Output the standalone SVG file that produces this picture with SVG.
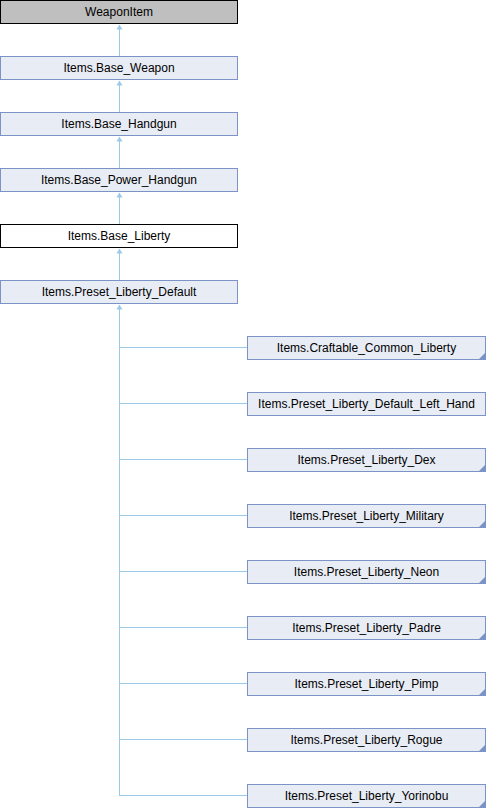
<svg xmlns="http://www.w3.org/2000/svg" width="486" height="808" viewBox="0 0 486 808">
  <style>
    .node rect { fill: #E8ECF5; stroke: #7B93C6; stroke-width: 1; }
    .node.root rect { fill: #BFBFBF; stroke: #000000; }
    .node.current rect { fill: #FFFFFF; stroke: #000000; }
    .node text { font-family: "Liberation Sans", Arial, sans-serif; font-size: 12px; fill: #000000; text-anchor: middle; }
    .fold { fill: #7B93C6; }
    .edge { fill: none; stroke: #9ACAEA; stroke-width: 1; }
    .head { fill: #9ACAEA; }
  </style>

  <!-- inheritance connectors -->
  <g id="edges">
    <path class="edge" d="M119.5,56 V25"/>
    <path class="edge" d="M119.5,112 V81"/>
    <path class="edge" d="M119.5,168 V137"/>
    <path class="edge" d="M119.5,224 V193"/>
    <path class="edge" d="M119.5,280 V249"/>
    <path class="edge" d="M119.5,796 V305"/>
    <path class="edge" d="M119.5,347.5 H247"/>
    <path class="edge" d="M119.5,403.5 H247"/>
    <path class="edge" d="M119.5,459.5 H247"/>
    <path class="edge" d="M119.5,515.5 H247"/>
    <path class="edge" d="M119.5,571.5 H247"/>
    <path class="edge" d="M119.5,627.5 H247"/>
    <path class="edge" d="M119.5,683.5 H247"/>
    <path class="edge" d="M119.5,739.5 H247"/>
    <path class="edge" d="M119.5,795.5 H247"/>
    <path class="head" d="M119.5,24.5 L122.5,29.5 L116.5,29.5 Z"/>
    <path class="head" d="M119.5,80.5 L122.5,85.5 L116.5,85.5 Z"/>
    <path class="head" d="M119.5,136.5 L122.5,141.5 L116.5,141.5 Z"/>
    <path class="head" d="M119.5,192.5 L122.5,197.5 L116.5,197.5 Z"/>
    <path class="head" d="M119.5,248.5 L122.5,253.5 L116.5,253.5 Z"/>
    <path class="head" d="M119.5,304.5 L122.5,309.5 L116.5,309.5 Z"/>
  </g>

  <g id="WeaponItem" class="node root">
    <rect x="0.5" y="0.5" width="237" height="23"/>
    <text x="119" y="16">WeaponItem</text>
  </g>
  <g id="Base_Weapon" class="node">
    <rect x="0.5" y="56.5" width="237" height="23"/>
    <text x="119" y="72">Items.Base_Weapon</text>
  </g>
  <g id="Base_Handgun" class="node">
    <rect x="0.5" y="112.5" width="237" height="23"/>
    <text x="119" y="128">Items.Base_Handgun</text>
  </g>
  <g id="Base_Power_Handgun" class="node">
    <rect x="0.5" y="168.5" width="237" height="23"/>
    <text x="119" y="184">Items.Base_Power_Handgun</text>
  </g>
  <g id="Base_Liberty" class="node current">
    <rect x="0.5" y="224.5" width="237" height="23"/>
    <text x="119" y="240">Items.Base_Liberty</text>
  </g>
  <g id="Preset_Liberty_Default" class="node">
    <rect x="0.5" y="280.5" width="237" height="23"/>
    <text x="119" y="296">Items.Preset_Liberty_Default</text>
  </g>

  <g id="Craftable_Common_Liberty" class="node">
    <rect x="247.5" y="336.5" width="238" height="23"/>
    <path class="fold" d="M485,353 V359 H479 Z"/>
    <text x="366.5" y="352">Items.Craftable_Common_Liberty</text>
  </g>
  <g id="Preset_Liberty_Default_Left_Hand" class="node">
    <rect x="247.5" y="392.5" width="238" height="23"/>
    <text x="366.5" y="408">Items.Preset_Liberty_Default_Left_Hand</text>
  </g>
  <g id="Preset_Liberty_Dex" class="node">
    <rect x="247.5" y="448.5" width="238" height="23"/>
    <path class="fold" d="M485,465 V471 H479 Z"/>
    <text x="366.5" y="464">Items.Preset_Liberty_Dex</text>
  </g>
  <g id="Preset_Liberty_Military" class="node">
    <rect x="247.5" y="504.5" width="238" height="23"/>
    <path class="fold" d="M485,521 V527 H479 Z"/>
    <text x="366.5" y="520">Items.Preset_Liberty_Military</text>
  </g>
  <g id="Preset_Liberty_Neon" class="node">
    <rect x="247.5" y="560.5" width="238" height="23"/>
    <path class="fold" d="M485,577 V583 H479 Z"/>
    <text x="366.5" y="576">Items.Preset_Liberty_Neon</text>
  </g>
  <g id="Preset_Liberty_Padre" class="node">
    <rect x="247.5" y="616.5" width="238" height="23"/>
    <path class="fold" d="M485,633 V639 H479 Z"/>
    <text x="366.5" y="632">Items.Preset_Liberty_Padre</text>
  </g>
  <g id="Preset_Liberty_Pimp" class="node">
    <rect x="247.5" y="672.5" width="238" height="23"/>
    <path class="fold" d="M485,689 V695 H479 Z"/>
    <text x="366.5" y="688">Items.Preset_Liberty_Pimp</text>
  </g>
  <g id="Preset_Liberty_Rogue" class="node">
    <rect x="247.5" y="728.5" width="238" height="23"/>
    <path class="fold" d="M485,745 V751 H479 Z"/>
    <text x="366.5" y="744">Items.Preset_Liberty_Rogue</text>
  </g>
  <g id="Preset_Liberty_Yorinobu" class="node">
    <rect x="247.5" y="784.5" width="238" height="23"/>
    <path class="fold" d="M485,801 V807 H479 Z"/>
    <text x="366.5" y="800">Items.Preset_Liberty_Yorinobu</text>
  </g>
</svg>
